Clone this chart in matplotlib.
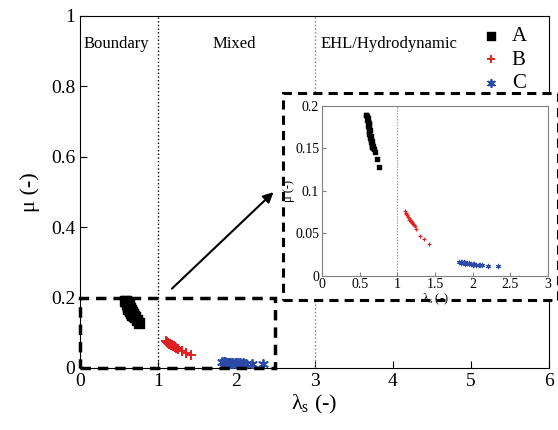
import matplotlib
matplotlib.use('Agg')
import matplotlib.pyplot as plt
from matplotlib.patches import Rectangle

plt.rcParams['font.family'] = ['Liberation Serif', 'DejaVu Serif']
plt.rcParams['mathtext.fontset'] = 'custom'
plt.rcParams['mathtext.rm'] = 'Liberation Serif'
plt.rcParams['mathtext.it'] = 'Liberation Serif:italic'

# data
lam_A = [0.58, 0.59, 0.60, 0.61, 0.60, 0.61, 0.62, 0.63, 0.61, 0.62, 0.63, 0.64,
         0.62, 0.63, 0.64, 0.65, 0.64, 0.65, 0.66, 0.65, 0.66, 0.67, 0.66, 0.67,
         0.68, 0.68, 0.69, 0.70, 0.73, 0.76]
mu_A = [0.189, 0.189, 0.188, 0.186, 0.183, 0.181, 0.180, 0.178, 0.176, 0.174, 0.172, 0.171,
        0.169, 0.167, 0.165, 0.164, 0.162, 0.160, 0.159, 0.157, 0.155, 0.154, 0.152, 0.151,
        0.153, 0.150, 0.149, 0.145, 0.137, 0.128]
lam_B = [1.10, 1.11, 1.12, 1.13, 1.14, 1.15, 1.16, 1.17, 1.18, 1.19, 1.20, 1.21,
         1.22, 1.23, 1.25, 1.30, 1.35, 1.42]
mu_B = [0.076, 0.074, 0.072, 0.071, 0.069, 0.068, 0.066, 0.065, 0.064, 0.063, 0.062, 0.061,
        0.060, 0.058, 0.055, 0.047, 0.043, 0.037]
lam_C = [1.82, 1.84, 1.86, 1.88, 1.90, 1.92, 1.95, 1.98, 2.00, 2.02, 2.05, 2.08,
         2.10, 2.12, 1.85, 1.90, 1.95, 2.00, 2.05, 2.20, 2.34]
mu_C = [0.016, 0.0165, 0.016, 0.0155, 0.015, 0.0148, 0.0145, 0.014, 0.0138, 0.0135, 0.013, 0.0128,
        0.0125, 0.012, 0.0145, 0.014, 0.0135, 0.013, 0.0125, 0.011, 0.011]

regions = ['Boundary', 'Mixed', 'EHL/Hydrodynamic']
region_x = [0.05, 1.97, 3.08]
c_blue = '#2c4aa8'
c_red = '#e02020'
star = (6, 2, 0)

fig = plt.figure(figsize=(5.58, 4.30), dpi=100)
ax = fig.add_axes([0.1434, 0.1442, 0.8406, 0.8186])

ax.scatter(lam_A, mu_A, marker='s', s=42, color='black', label='A', zorder=3)
ax.scatter(lam_B, mu_B, marker='+', s=45, color=c_red, linewidths=1.4, label='B', zorder=3)
ax.scatter(lam_C, mu_C, marker=star, s=45, color=c_blue, linewidths=1.3, label='C', zorder=3)

ax.axvline(1, color='black', ls=':', lw=1)
ax.axvline(3, color='gray', ls=':', lw=1)
for name, xp in zip(regions, region_x):
    ax.text(xp, 0.92, name, fontsize=12, ha='center' if name == 'Mixed' else 'left', va='center')

ax.add_patch(Rectangle((0, 0), 2.5, 0.2, fill=False, ls=(0, (3, 2)), lw=2.5,
                       edgecolor='black', clip_on=False, zorder=4))
ax.annotate('', xy=(2.5, 0.505), xytext=(1.15, 0.22),
            arrowprops=dict(arrowstyle='-|>', color='black', lw=1.5, mutation_scale=15))

ax.set_xlim(0, 6)
ax.set_ylim(0, 1)
ax.set_xticks([0, 1, 2, 3, 4, 5, 6])
ax.set_yticks([0, 0.2, 0.4, 0.6, 0.8, 1])
ax.set_yticklabels(['0', '0.2', '0.4', '0.6', '0.8', '1'])
ax.tick_params(direction='in', labelsize=14, length=5)
ax.set_xlabel(r'λ$_{\rm s}$ (-)', fontsize=16, labelpad=2)
ax.set_ylabel('μ (-)', fontsize=16, labelpad=8)

leg = ax.legend(loc='upper right', frameon=False, fontsize=15, handletextpad=0.0,
                borderaxespad=0.1, labelspacing=0.2, markerscale=0.8,
                bbox_to_anchor=(0.975, 1.0))

# inset frame
fig.patches.append(Rectangle((0.507, 0.302), 0.493, 0.482, transform=fig.transFigure,
                             facecolor='white', edgecolor='black', ls=(0, (3, 2)),
                             lw=2.2, zorder=1))

axi = fig.add_axes([0.577, 0.359, 0.405, 0.395], zorder=2)
axi.scatter(lam_A, mu_A, marker='s', s=12, color='black')
axi.scatter(lam_B, mu_B, marker='+', s=8, color=c_red, linewidths=0.8)
axi.scatter(lam_C, mu_C, marker=star, s=10, color=c_blue, linewidths=0.8)
axi.axvline(1, color='gray', ls=':', lw=0.8)
axi.set_xlim(0, 3)
axi.set_ylim(0, 0.2)
axi.set_xticks([0, 0.5, 1, 1.5, 2, 2.5, 3])
axi.set_xticklabels(['0', '0.5', '1', '1.5', '2', '2.5', '3'])
axi.set_yticks([0, 0.05, 0.1, 0.15, 0.2])
axi.set_yticklabels(['0', '0.05', '0.1', '0.15', '0.2'])
axi.tick_params(direction='in', labelsize=10, length=3, color='gray', pad=2)
for sp in axi.spines.values():
    sp.set_color('gray')
axi.set_xlabel(r'λ$_{\rm s}$ (-)', fontsize=9, labelpad=0)
axi.set_ylabel('μ (-)', fontsize=9, labelpad=0)

fig.savefig('out.png', dpi=100)
